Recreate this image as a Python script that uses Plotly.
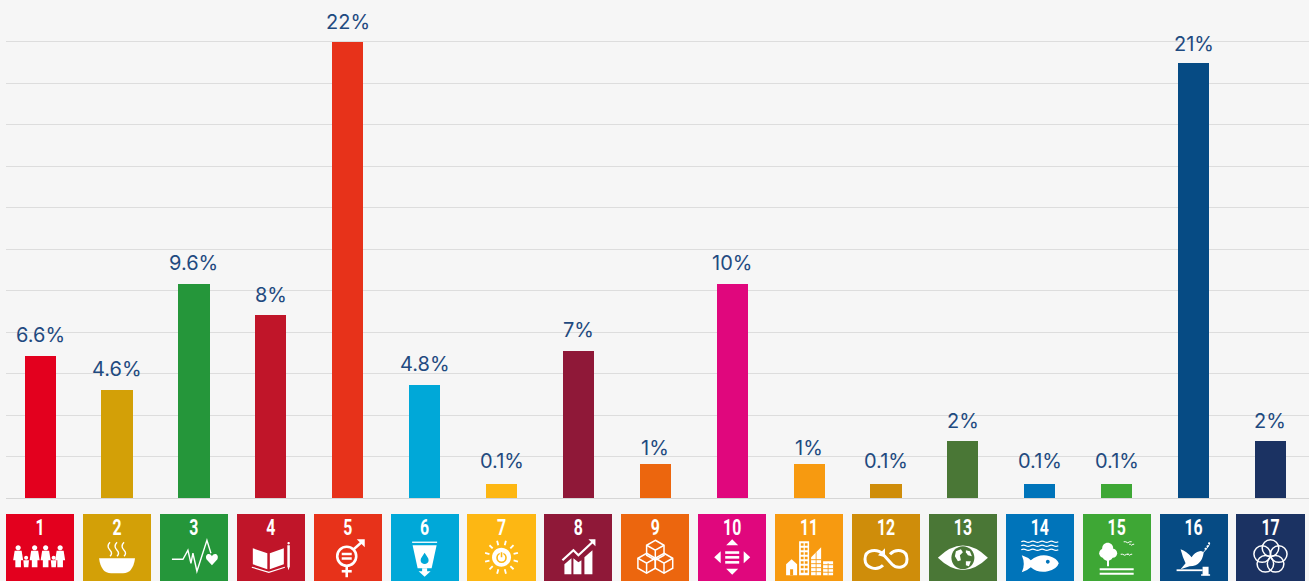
import math
import re
import plotly.graph_objects as go

GOALS = list(range(1, 18))
BAR_VALUES = [6.85, 5.2, 10.3, 8.8, 22, 5.45, 0.68, 7.1, 1.66, 10.3, 1.66, 0.68, 2.75, 0.68, 0.68, 20.95, 2.75]
BAR_LABELS = ["6.6%", "4.6%", "9.6%", "8%", "22%", "4.8%", "0.1%", "7%", "1%", "10%", "1%", "0.1%", "2%", "0.1%", "0.1%", "21%", "2%"]
COLORS = ["#E3001E", "#D3A007", "#25963A", "#C01529", "#E7321A", "#00A8D8", "#FDB713", "#8F1838", "#EC660E",
          "#E0077D", "#F79A10", "#CF8D0A", "#4A7736", "#0074BA", "#3EA735", "#064B84", "#1B3262"]
GRID_TICKS = list(range(0, 24, 2))

BG = "#F6F6F6"
TILE_TOP, TILE_BOTTOM, NUM_Y, ICON_Y = -0.77, -4.0, -1.52, -3.0
LABEL_GAP = [21, 21, 21, 20, 20, 21, 23, 21, 16, 21, 16, 23, 20, 23, 23, 19, 20]


def flip(path):
    n = [0]
    def sub(m):
        n[0] += 1
        v = float(m.group(0))
        return f"{-v:.2f}" if n[0] % 2 == 0 else f"{v:.2f}"
    return re.sub(r"-?\d+\.?\d*", sub, path)


def circ(cx, cy, r):
    k = 0.5523 * r
    return (f"M{cx-r},{cy} C{cx-r},{cy-k} {cx-k},{cy-r} {cx},{cy-r} C{cx+k},{cy-r} {cx+r},{cy-k} {cx+r},{cy} "
            f"C{cx+r},{cy+k} {cx+k},{cy+r} {cx},{cy+r} C{cx-k},{cy+r} {cx-r},{cy+k} {cx-r},{cy} Z")


def rect(x0, y0, x1, y1):
    return f"M{x0},{y0} L{x1},{y0} L{x1},{y1} L{x0},{y1} Z"


def poly(pts, close=True):
    s = "M" + " L".join(f"{x},{y}" for x, y in pts)
    return s + (" Z" if close else "")


W = "#FFFFFF"


def fw(p):
    return (p, "f", W, 0)


def ft(p, tile):
    return (p, "f", tile, 0)


def st(p, w=1.5, c=W):
    return (p, "s", c, w)


def wave(x0, x1, y, amp=1.5, n=4):
    step = (x1 - x0) / n
    s = f"M{x0},{y}"
    for i in range(n):
        s += f" Q{x0+step*(i+.5):.2f},{y + (amp if i % 2 else -amp)} {x0+step*(i+1):.2f},{y}"
    return s


def icon(goal, t):
    o = []
    if goal == 1:
        for x in (-22, -5.5, 5.5, 20):
            o += [fw(circ(x, -12.5, 2.6)), fw(poly([(x-3.5, -9.5), (x+3.5, -9.5), (x+5, 0), (x+2.8, 0), (x+2.8, 7), (x-2.8, 7), (x-2.8, 0), (x-5, 0)]))]
        for x in (-14, 13.5):
            o += [fw(circ(x, -2.5, 2)), fw(poly([(x-2.8, 0), (x+2.8, 0), (x+2.2, 7), (x-2.2, 7)]))]
    elif goal == 2:
        o.append(fw("M-18,-2 L18,-2 Q16,13 6,13 L-6,13 Q-16,13 -18,-2 Z"))
        for x in (-7, 0, 7):
            o.append(st(f"M{x},-18 Q{x-4},-14 {x},-10 Q{x+3},-7 {x},-4", 1.4))
    elif goal == 3:
        o.append(st(poly([(-22, -1), (-11, -1), (-6, -10), (-3, 3), (-1, -7), (3, 11), (13, -20), (17, -7)], False), 1.4))
        o.append(fw("M18,5 L12.5,-1 C10.5,-6 16,-8 18,-4 C20,-8 25.5,-6 23.5,-1 Z"))
    elif goal == 4:
        o.append(fw(poly([(-18, -12), (-3.5, -7), (-3.5, 9), (-18, 4)])))
        o.append(fw(poly([(13, -12), (-1, -7), (-1, 9), (13, 4)])))
        o.append(st(poly([(-19, 7), (-2, 12), (14, 7)], False), 1.2))
        o.append(fw(poly([(16.5, -15), (19, -15), (19, 6), (17.7, 10), (16.5, 6)])))
        o.append(fw(circ(17.8, -17, 1.2)))
    elif goal == 5:
        o.append(st(circ(-1, -4, 9.5), 2.6))
        o.append(fw(rect(-6, -7.5, 4, -5)))
        o.append(fw(rect(-6, -3, 4, -0.5)))
        o.append(st("M6,-11 L15,-19", 2.4))
        o.append(fw(poly([(9, -21), (17, -21), (17, -13)])))
        o.append(st("M-1,6 L-1,17", 2.6))
        o.append(st("M-6,11 L4,11", 2.6))
    elif goal == 6:
        o.append(st(poly([(-12.5, -18), (12.5, -18)], False), 1.3))
        o.append(fw(poly([(-12, -15), (12, -15), (7, 8), (-7, 8)])))
        o.append(ft("M0,-7.5 C2,-4 4,-2.5 4,0 C4,5 -4,5 -4,0 C-4,-2.5 -2,-4 0,-7.5 Z", t))
        o.append(fw(poly([(-2.5, 8), (2.5, 8), (2.5, 11), (6, 11), (0, 16.5), (-6, 11), (-2.5, 11)])))
    elif goal == 7:
        o.append(fw(circ(0, -3, 9.5)))
        o.append(st(circ(0, -2.5, 4.5), 1.6, t))
        o.append(fw(rect(-1.8, -8.5, 1.8, -4)))
        o.append(ft(rect(-0.8, -8, 0.8, -3), t))
        for k in range(12):
            a = k * math.pi / 6 + .26
            o.append(st(f"M{12.5*math.cos(a):.2f},{-3+12.5*math.sin(a):.2f} L{17*math.cos(a):.2f},{-3+17*math.sin(a):.2f}", 1.8))
    elif goal == 8:
        o.append(fw(poly([(-14, 4), (-7, -2), (-7, 14), (-14, 14)])))
        o.append(fw(poly([(-5, -2), (0, 2), (3, 0), (3, 14), (-5, 14)])))
        o.append(fw(poly([(6, -3), (14, -10), (14, 14), (6, 14)])))
        o.append(st(poly([(-16, 0), (-5, -10), (0, -5), (15, -19)], False), 2.2))
        o.append(fw(poly([(10, -21), (17, -21), (17, -14)])))
    elif goal == 9:
        for cx, cy in ((0, -10), (-8.7, 3), (8.7, 3)):
            o.append(st(poly([(cx, cy-10), (cx+8.7, cy-5), (cx+8.7, cy+5), (cx, cy+10), (cx-8.7, cy+5), (cx-8.7, cy-5)]), 1.5))
            o.append(st(poly([(cx-8.7, cy-5), (cx, cy), (cx+8.7, cy-5)], False), 1.5))
            o.append(st(f"M{cx},{cy} L{cx},{cy+10}", 1.5))
    elif goal == 10:
        o.append(fw(poly([(0, -21), (6, -15), (-6, -15)])))
        o.append(fw(poly([(0, 14.5), (6, 8.5), (-6, 8.5)])))
        o.append(fw(poly([(-18, -3), (-11.5, -9), (-11.5, 3)])))
        o.append(fw(poly([(18, -3), (11.5, -9), (11.5, 3)])))
        for y in (-9, -4.2, 0.8):
            o.append(fw(rect(-7, y, 7, y+2.6)))
    elif goal == 11:
        o.append(fw(poly([(-23, 4), (-17.5, -1), (-12, 4), (-12, 15), (-23, 15)])))
        o.append(ft(rect(-19, 9, -16, 15), t))
        o.append(fw(rect(-10, -19, 0, 15)))
        for r in range(7):
            for c in range(2):
                o.append(ft(rect(-8.3 + c*4, -17 + r*4.5, -5.5 + c*4, -14.5 + r*4.5), t))
        o.append(fw(poly([(2, -3), (12, -13), (12, 15), (2, 15)])))
        for y in (-1, 3, 7, 11):
            o.append(ft(rect(2, y, 12, y+0.9), t))
        o.append(ft(rect(6.6, -8, 7.4, 15), t))
        o.append(fw(rect(14, 1, 24, 15)))
        for y in (4, 8, 11.5):
            o.append(ft(rect(14, y, 24, y+0.9), t))
        o.append(ft(rect(18.6, 3, 19.4, 15), t))
    elif goal == 12:
        o.append(st("M-3,5 C-9,11 -21,8 -21,-1 C-21,-11 -9,-12 -3,-6 L6,4 C11,9 21,8 21,-1 C21,-11 10,-12 4,-6", 3))
        o.append(fw(poly([(-1, -12), (-1, -3), (-8, -5)])))
    elif goal == 13:
        o.append(fw("M-25,-2.5 Q0,-27 25,-2.5 Q0,22 -25,-2.5 Z"))
        o.append(ft(circ(0, -2.5, 11.5), t))
        o.append(fw("M-7,-9 L-2,-11 L0,-8 L-3,-5 L-2,0 L-5,1 L-8,-4 Z"))
        o.append(fw("M3,-10 L7,-9 L9,-4 L5,-5 L3,-8 Z"))
        o.append(fw("M3,1 L8,1 L6,6 L3,5 Z"))
    elif goal == 14:
        for y in (-18.5, -14.5, -10.5):
            o.append(st(wave(-18.5, 18.5, y, 1.3, 8), 1.3))
        o.append(fw("M-18,-5 Q-12,-3 -9,0 Q0,-7 10,-4 Q17,-2 19,3 Q17,9 8,11 Q-2,13 -9,7 Q-12,10 -18,12 Q-14,4 -18,-5 Z"))
        o.append(ft(circ(8, 1.5, 1.9), t))
    elif goal == 15:
        o += [fw(circ(-9, -12, 5.5)), fw(circ(-13, -7, 4.5)), fw(circ(-4, -7, 4.5)), fw(circ(-9, -5, 5.5))]
        o.append(fw(rect(-9.7, -3, -7.7, 6)))
        o.append(fw(rect(-17, 8, 17, 10)))
        o.append(fw(rect(-17, 12.5, 17, 14.5)))
        for x, y, s in ((11, -17.5, 4), (15, -15, 2.5), (8, -5, 4), (13, -5, 2.5)):
            o.append(st(f"M{x-s},{y-1} Q{x-s/2},{y-1.5} {x},{y} Q{x+s/2},{y-1.5} {x+s},{y-1}", 1))
    elif goal == 16:
        o.append(fw("M-13,-11 Q-7,-9 -2,-3 Q1,-8 6,-9 Q9,-10 10,-7 Q9,-1 6,2 Q3,6 -4,6 L-13,9 L-8,3 Q-11,-3 -13,-11 Z"))
        o.append(st("M9,-7 Q13,-11 16,-16", 1))
        for x, y in ((12, -11.5), (14, -14), (15.5, -17)):
            o.append(fw(circ(x, y, 1.1)))
        o.append(st("M-17,10 L9,10", 1.8))
        o.append(fw(rect(9, 6.5, 15, 15)))
        o.append(fw(rect(7.5, 14, 16.5, 15.5)))
    elif goal == 17:
        for k in range(5):
            a = -math.pi/2 + k * 2*math.pi/5
            o.append(st(circ(round(8.7*math.cos(a), 2), round(-3.5+8.7*math.sin(a), 2), 8.3), 1.5))
    return o


shapes = []
for g, col in zip(GOALS, COLORS):
    for path, kind, color, width in icon(g, col):
        d = dict(type="path", path=flip(path), xref="x", yref="y", xsizemode="pixel", ysizemode="pixel",
                 xanchor=g, yanchor=ICON_Y, layer="above")
        if kind == "f":
            d.update(fillcolor=color, line=dict(width=0))
        else:
            d.update(fillcolor="rgba(0,0,0,0)", line=dict(color=color, width=width))
        shapes.append(d)

fig = go.Figure()
fig.add_bar(x=GOALS, y=BAR_VALUES, width=0.405, marker=dict(color=COLORS, line=dict(width=0)), hoverinfo="skip")
fig.add_bar(x=GOALS, y=[TILE_BOTTOM - TILE_TOP] * 17, base=TILE_TOP, width=0.885,
            marker=dict(color=COLORS, line=dict(width=0)), hoverinfo="skip")
fig.add_scatter(x=GOALS, y=[NUM_Y] * 17, mode="text", text=[str(g) for g in GOALS],
                textfont=dict(family="Roboto", size=22, color="#FFFFFF", weight="bold"),
                textposition="middle center", hoverinfo="skip")

annotations = [dict(x=g, y=v, yshift=s, text=t, showarrow=False, xanchor="center", yanchor="middle",
                    font=dict(family="Inter, Open Sans", size=20, color="#1F4A80"))
               for g, v, t, s in zip(GOALS, BAR_VALUES, BAR_LABELS, LABEL_GAP)]

fig.update_layout(
    width=1309, height=581, margin=dict(l=6, r=0, t=0, b=0), autosize=False,
    paper_bgcolor=BG, plot_bgcolor=BG, showlegend=False, barmode="overlay", bargap=0,
    xaxis=dict(range=[0.556, 17.501], visible=False, fixedrange=True),
    yaxis=dict(range=[-4.0, 24.0], tickmode="array", tickvals=GRID_TICKS, showticklabels=False, ticks="",
               gridcolor="#DDDDDD", gridwidth=1, zeroline=True, zerolinecolor="#D6D6D6", zerolinewidth=1,
               showline=False, fixedrange=True),
    shapes=shapes, annotations=annotations,
)
narrow = ("document.querySelectorAll('.textpoint text').forEach(function(t){"
          "t.style.transformBox='fill-box';t.style.transformOrigin='center';t.style.transform='scaleX(0.72)';});")
fig.write_html("out.html", post_script="document.body.style.margin='0';document.body.style.background='#F6F6F6';document.body.style.overflow='hidden';" + narrow,
               config=dict(displayModeBar=False))
